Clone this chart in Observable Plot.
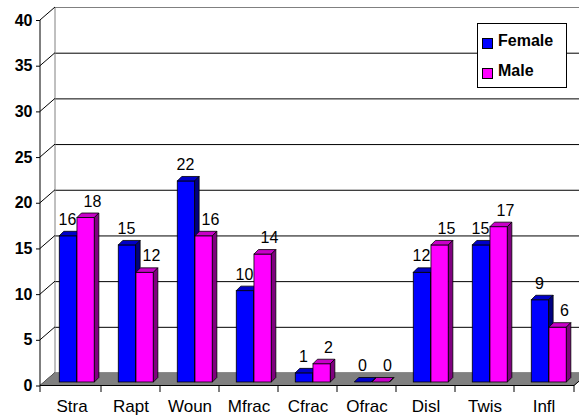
<!DOCTYPE html>
<html>
<head>
<meta charset="utf-8">
<script src="https://cdn.jsdelivr.net/npm/d3@7"></script>
<script src="https://cdn.jsdelivr.net/npm/@observablehq/plot@0.6"></script>
<style>
  body { margin: 0; background: #fff; }
  #chart { position: relative; width: 579px; height: 418px; font-family: "Liberation Sans", Arial, sans-serif; }
  #chart svg { display: block; }
  #legend { position: absolute; left: 477px; top: 23px; width: 90px; height: 65px; box-sizing: border-box;
            border: 1px solid #000; background: #fff; }
  .swatch { position: absolute; left: 4px; width: 11px; height: 11px; box-sizing: border-box; border: 1px solid #000; }
  .entry { position: absolute; left: 20px; font-weight: bold; font-size: 16px; line-height: 16px; white-space: nowrap; }
</style>
</head>
<body>
<div id="chart"></div>
<script>
// Injury categories and counts per sex
const categories = ["Stra", "Rapt", "Woun", "Mfrac", "Cfrac", "Ofrac", "Disl", "Twis", "Infl"];
const female = [16, 15, 22, 10, 1, 0, 12, 15, 9];
const male = [18, 12, 16, 14, 2, 0, 15, 17, 6];
const series = ["Female", "Male"];
const yTicks = [0, 5, 10, 15, 20, 25, 30, 35, 40];

// Face colours for the extruded columns
const tones = {
  Female: { front: "#0000ff", top: "#0000c8", side: "#000080" },
  Male:   { front: "#ff00ff", top: "#c800c8", side: "#800080" }
};

const toRows = (values, name) => categories.map((category, i) => ({ category, value: values[i], series: name }));
const femaleRows = toRows(female, series[0]);
const maleRows = toRows(male, series[1]);

// Layout of the pseudo-3D box
const W = 579, H = 418;
const margin = { left: 40, right: 5, top: 20, bottom: 32.5 };
const wall = [15, -13];        // depth offset of the back wall
const barDepth = [4.5, -4.5];  // depth of each column
const barShift = [5.3, -3.5];  // columns sit a little behind the front plane
const barWidth = 17.7;
const band = (W - margin.left - margin.right) / categories.length;

const svgNS = "http://www.w3.org/2000/svg";
function polygon(points, fill) {
  const p = document.createElementNS(svgNS, "polygon");
  p.setAttribute("points", points.map(d => d.join(",")).join(" "));
  p.setAttribute("fill", fill);
  return p;
}

// Adds top and side faces to every bar rect drawn by the mark
function extrude(tone) {
  return (index, scales, values, dimensions, context, next) => {
    const g = next(index, scales, values, dimensions, context);
    const [ex, ey] = barDepth;
    for (const r of Array.from(g.querySelectorAll("rect"))) {
      const x = +r.getAttribute("x"), y = +r.getAttribute("y");
      const w = +r.getAttribute("width"), h = +r.getAttribute("height");
      g.appendChild(polygon([[x, y], [x + ex, y + ey], [x + w + ex, y + ey], [x + w, y]], tone.top));
      g.appendChild(polygon([[x + w, y], [x + w + ex, y + ey], [x + w + ex, y + h + ey], [x + w, y + h]], tone.side));
    }
    return g;
  };
}

// Left wall edges and back-wall border
function sideWall(index, { y }, values, { width, marginLeft: l, marginRight: r }) {
  const g = d3.create("svg:g");
  const [dx, dy] = wall;
  g.append("line").attr("x1", l + dx).attr("x2", l + dx)
    .attr("y1", y(40) + dy).attr("y2", y(0) + dy).attr("stroke", "#808080");
  for (const t of yTicks) {
    g.append("line").attr("x1", l).attr("y1", y(t)).attr("x2", l + dx).attr("y2", y(t) + dy)
      .attr("stroke", "#000");
  }
  return g.node();
}

// Grey floor with its front and right edges
function floor(index, { y }, values, { width, marginLeft: l, marginRight: r }) {
  const g = d3.create("svg:g");
  const [dx, dy] = wall;
  const y0 = y(0), right = width - r;
  g.append("path").attr("d", `M${l},${y0}L${right},${y0}L${right + dx},${y0 + dy}L${l + dx},${y0 + dy}Z`)
    .attr("fill", "#808080").attr("stroke", "#6a6a6a").attr("stroke-width", 0.6);
  g.append("line").attr("x1", right).attr("y1", y0).attr("x2", right + dx).attr("y2", y0 + dy).attr("stroke", "#000");
  return g.node();
}

// Front axis lines and category boundary ticks
function frontAxes(index, { x, y }, values, { width, marginLeft: l, marginRight: r }) {
  const g = d3.create("svg:g").attr("stroke", "#000");
  const y0 = y(0), right = width - r;
  g.append("line").attr("x1", l).attr("x2", l).attr("y1", y(40)).attr("y2", y0 + 6.5);
  g.append("line").attr("x1", l).attr("x2", right).attr("y1", y0).attr("y2", y0);
  const edges = categories.map(c => x(c)).concat(right);
  for (const e of edges.slice(1)) {
    g.append("line").attr("x1", e).attr("x2", e).attr("y1", y0).attr("y2", y0 + 6.5);
  }
  return g.node();
}

const insetF = { insetLeft: band / 2 - barWidth, insetRight: band / 2 };
const insetM = { insetLeft: band / 2, insetRight: band / 2 - barWidth };

const chart = Plot.plot({
  width: W,
  height: H,
  marginLeft: margin.left,
  marginRight: margin.right,
  marginTop: margin.top,
  marginBottom: margin.bottom,
  style: { fontFamily: "'Liberation Sans', Arial, sans-serif", color: "#000", background: "transparent" },
  x: { type: "band", domain: categories, padding: 0 },
  y: { domain: [0, 40] },
  marks: [
    // back wall gridlines
    Plot.ruleY(yTicks.slice(1, -1), { dx: wall[0], dy: wall[1], stroke: "#000", strokeWidth: 1 }),
    Plot.ruleY([40], { dx: wall[0], dy: wall[1], stroke: "#808080", strokeWidth: 1 }),
    sideWall,
    floor,
    // columns
    Plot.barY(femaleRows, {
      x: "category", y: "value", ...insetF, dx: barShift[0], dy: barShift[1],
      fill: tones.Female.front, stroke: "#000", strokeWidth: 0.8, render: extrude(tones.Female)
    }),
    Plot.barY(maleRows, {
      x: "category", y: "value", ...insetM, dx: barShift[0], dy: barShift[1],
      fill: tones.Male.front, stroke: "#000", strokeWidth: 0.8, render: extrude(tones.Male)
    }),
    frontAxes,
    // value labels
    Plot.text(femaleRows, { x: "category", y: "value", text: d => String(d.value), dx: -4.5, dy: -20, fontSize: 16 }),
    Plot.text(maleRows, { x: "category", y: "value", text: d => String(d.value), dx: 20.5, dy: -20, fontSize: 16 }),
    Plot.axisY({ ticks: yTicks, tickSize: 4, tickPadding: 4, fontSize: 16, fontWeight: "bold", label: null }),
    Plot.axisX({ tickSize: 0, tickPadding: 14, fontSize: 17, label: null })
  ]
});

const root = document.getElementById("chart");
root.appendChild(chart);

// Legend box in the upper right of the plot area
const legend = document.createElement("div");
legend.id = "legend";
series.forEach((name, i) => {
  const sw = document.createElement("div");
  sw.className = "swatch";
  sw.style.top = (14 + 30 * i) + "px";
  sw.style.background = tones[name].front;
  const label = document.createElement("div");
  label.className = "entry";
  label.style.top = (9 + 30 * i) + "px";
  label.textContent = name;
  legend.append(sw, label);
});
root.appendChild(legend);
</script>
</body>
</html>
